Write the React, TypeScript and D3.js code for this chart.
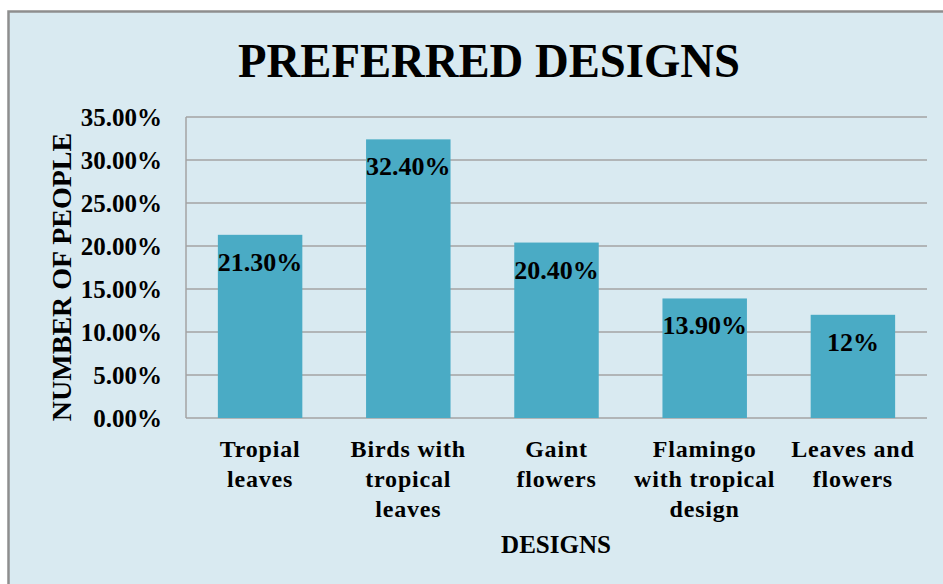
import { useMemo } from "react";
import * as d3 from "d3";

// chart data
const categories = ["Tropial leaves", "Birds with tropical leaves", "Gaint flowers", "Flamingo with tropical design", "Leaves and flowers"];
const categoryLines = [
  ["Tropial", "leaves"],
  ["Birds with", "tropical", "leaves"],
  ["Gaint", "flowers"],
  ["Flamingo", "with tropical", "design"],
  ["Leaves and", "flowers"],
];
const values = [21.3, 32.4, 20.4, 13.9, 12];
const valueLabels = ["21.30%", "32.40%", "20.40%", "13.90%", "12%"];
const yTicks = [0, 5, 10, 15, 20, 25, 30, 35];

const W = 943;
const H = 584;
const FONT = "'Liberation Serif', 'Times New Roman', serif";

export default function App() {
  const plot = { left: 186, right: 927, top: 117, bottom: 418 };

  const x = useMemo(
    () => d3.scaleBand<string>().domain(categories).range([plot.left, plot.right]).paddingInner(0.43).paddingOuter(0.215),
    []
  );
  const y = useMemo(() => d3.scaleLinear().domain([0, 35]).range([plot.bottom, plot.top]), []);

  return (
    <svg
      width={W}
      height={H}
      style={{ position: "fixed", left: 0, top: 0, display: "block", fontFamily: FONT, fontWeight: "bold" }}
    >
      <rect x={0} y={0} width={W} height={H} fill="#ffffff" />
      {/* chart area frame */}
      <rect x={8.5} y={11.5} width={W + 10} height={H + 10} fill="#d9eaf1" stroke="#8e8e8e" strokeWidth={2.5} />

      {/* title */}
      <text x={489} y={77} textAnchor="middle" fontSize={48} textLength={502} lengthAdjust="spacingAndGlyphs" fill="#000">
        PREFERRED DESIGNS
      </text>

      {/* gridlines */}
      {yTicks.map((t) => (
        <line key={t} x1={plot.left} x2={plot.right} y1={y(t)} y2={y(t)} stroke="#a3a3a3" strokeWidth={1.5} />
      ))}
      <line x1={plot.left} x2={plot.left} y1={plot.top} y2={plot.bottom} stroke="#a3a3a3" strokeWidth={1.5} />

      {/* y tick labels */}
      {yTicks.map((t) => (
        <text key={t} x={162} y={y(t) + 9} textAnchor="end" fontSize={25} fill="#000">
          {d3.format(".2f")(t)}%
        </text>
      ))}

      {/* bars */}
      {categories.map((c, i) => (
        <rect key={c} x={x(c)} y={y(values[i])} width={x.bandwidth()} height={y(0) - y(values[i])} fill="#4aabc5" />
      ))}

      {/* data labels */}
      {categories.map((c, i) => (
        <text key={c} x={(x(c) ?? 0) + x.bandwidth() / 2} y={y(values[i]) + 36} textAnchor="middle" fontSize={26} fill="#000">
          {valueLabels[i]}
        </text>
      ))}

      {/* category labels */}
      {categories.map((c, i) => (
        <text key={c} x={(x(c) ?? 0) + x.bandwidth() / 2} y={457} textAnchor="middle" fontSize={24} letterSpacing={0.8} fill="#000">
          {categoryLines[i].map((line, j) => (
            <tspan key={j} x={(x(c) ?? 0) + x.bandwidth() / 2} dy={j === 0 ? 0 : 30}>
              {line}
            </tspan>
          ))}
        </text>
      ))}

      {/* axis titles */}
      <text x={556} y={553} textAnchor="middle" fontSize={25} fill="#000">
        DESIGNS
      </text>
      <text transform="translate(71,277) rotate(-90)" textAnchor="middle" fontSize={28} fill="#000">
        NUMBER OF PEOPLE
      </text>
    </svg>
  );
}
